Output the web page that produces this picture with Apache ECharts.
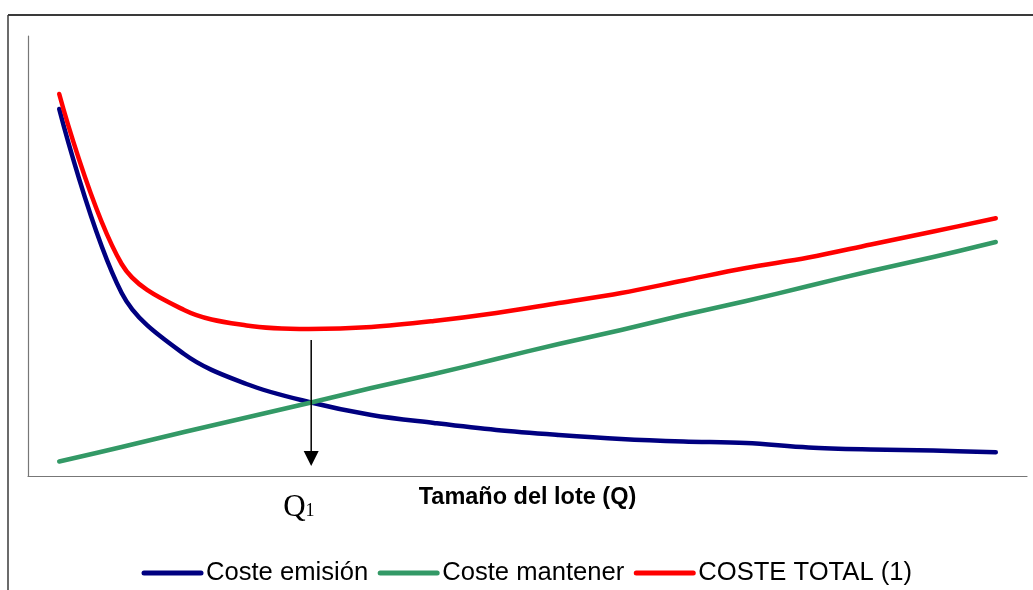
<!DOCTYPE html>
<html>
<head>
<meta charset="utf-8">
<title>Coste emisión, coste mantener y coste total</title>
<script src="https://cdn.jsdelivr.net/npm/echarts@6/dist/echarts.min.js"></script>
<style>
  html, body { margin: 0; padding: 0; background: #ffffff; }
  #chart { width: 1033px; height: 590px; }
</style>
</head>
<body>
<div id="chart"></div>
<script>
// Lot sizes (Q), in order along the horizontal axis
const categories = ['1', '2', '3', '4', '5', '6', '7', '8', '9', '10', '11', '12', '13', '14', '15', '16'];

// Ordering cost falls as the lot grows
const costeEmision = [367, 183, 122, 92, 74, 61, 53, 46, 41, 37, 34.5, 33, 28.5, 26.5, 25.5, 23.7];

// Holding cost rises linearly with the lot size
const costeMantener = [14.5, 29, 44, 58.5, 73, 88, 102, 117, 132, 146, 161, 175, 190, 205, 219, 234];

// Total cost of each lot size
const costeTotal = [382, 212, 166, 150.5, 147, 149, 155, 163, 173, 183, 195.5, 208, 218.5, 231.5, 244.5, 257.7];

const seriesNames = ['Coste emisión', 'Coste mantener', 'COSTE TOTAL (1)'];
const seriesColors = ['#000080', '#339966', '#ff0000'];
const axisTitle = 'Tamaño del lote (Q)';

const chart = echarts.init(document.getElementById('chart'), null, { renderer: 'canvas' });

function lineSeries(name, data, color) {
  return {
    name: name,
    type: 'line',
    data: data,
    smooth: 0.35,
    symbol: 'none',
    lineStyle: { color: color, width: 4.5, cap: 'round', join: 'round' },
    itemStyle: { color: color },
    emphasis: { disabled: true },
    z: 3
  };
}

chart.setOption({
  animation: false,
  backgroundColor: '#ffffff',
  grid: { left: 28, right: 6, top: 36, bottom: 114, containLabel: false },
  legend: {
    data: seriesNames,
    left: 136.5,
    top: 555,
    itemWidth: 57,
    itemHeight: 5,
    itemGap: 9.5,
    lineStyle: { width: 5, cap: 'round' },
    textStyle: { fontFamily: 'Liberation Sans', fontSize: 25.6, color: '#000000' }
  },
  xAxis: {
    type: 'category',
    data: categories,
    boundaryGap: true,
    name: axisTitle,
    nameLocation: 'middle',
    nameGap: 10,
    nameTextStyle: { fontFamily: 'Liberation Sans', fontSize: 23.5, fontWeight: 'bold', color: '#000000' },
    axisLine: { show: true, lineStyle: { color: '#777777', width: 1.2 } },
    axisTick: { show: false },
    axisLabel: { show: false },
    splitLine: { show: false }
  },
  yAxis: {
    type: 'value',
    min: 0,
    max: 440,
    axisLine: { show: true, lineStyle: { color: '#777777', width: 1.2 } },
    axisTick: { show: false },
    axisLabel: { show: false },
    splitLine: { show: false }
  },
  series: [
    lineSeries(seriesNames[0], costeEmision, seriesColors[0]),
    lineSeries(seriesNames[1], costeMantener, seriesColors[1]),
    lineSeries(seriesNames[2], costeTotal, seriesColors[2])
  ]
});

// Locate Q1 where the ordering and holding cost lines cross
function crossingPixel() {
  for (let i = 0; i < categories.length - 1; i++) {
    const d0 = costeEmision[i] - costeMantener[i];
    const d1 = costeEmision[i + 1] - costeMantener[i + 1];
    if (d0 >= 0 && d1 < 0) {
      const t = d0 / (d0 - d1);
      const p0 = chart.convertToPixel({ gridIndex: 0 }, [i, costeEmision[i]]);
      const p1 = chart.convertToPixel({ gridIndex: 0 }, [i + 1, costeEmision[i + 1]]);
      return p0[0] + t * (p1[0] - p0[0]);
    }
  }
  return null;
}

const qx = crossingPixel();
const minTotal = Math.min.apply(null, costeTotal);
const arrowTop = chart.convertToPixel({ gridIndex: 0 }, [0, minTotal])[1] + 11;
const axisY = chart.convertToPixel({ gridIndex: 0 }, [0, 0])[1];
const arrowTip = axisY - 10;

chart.setOption({
  graphic: [
    // frame around the figure (top and left edges)
    { type: 'line', silent: true, shape: { x1: 8, y1: 15, x2: 1033, y2: 15 },
      style: { stroke: '#3a3a3a', lineWidth: 2 } },
    { type: 'line', silent: true, shape: { x1: 8, y1: 15, x2: 8, y2: 590 },
      style: { stroke: '#3a3a3a', lineWidth: 1.5 } },
    // arrow pointing down to the optimum lot size
    { type: 'line', silent: true, z: 10, shape: { x1: qx, y1: arrowTop, x2: qx, y2: arrowTip - 12 },
      style: { stroke: '#000000', lineWidth: 1.5 } },
    { type: 'polygon', silent: true, z: 10,
      shape: { points: [[qx - 7.5, arrowTip - 15], [qx + 7.5, arrowTip - 15], [qx, arrowTip]] },
      style: { fill: '#000000' } },
    // Q1 label under the axis
    { type: 'text', silent: true, z: 10, left: qx - 28, top: 492,
      style: {
        text: '{q|Q}{s|1}',
        rich: {
          q: { fontFamily: 'Liberation Serif', fontSize: 31, color: '#000000', verticalAlign: 'bottom', lineHeight: 34 },
          s: { fontFamily: 'Liberation Serif', fontSize: 18, color: '#000000', verticalAlign: 'bottom', lineHeight: 34, padding: [0, 0, 3, 0] }
        }
      } }
  ]
});
</script>
</body>
</html>
